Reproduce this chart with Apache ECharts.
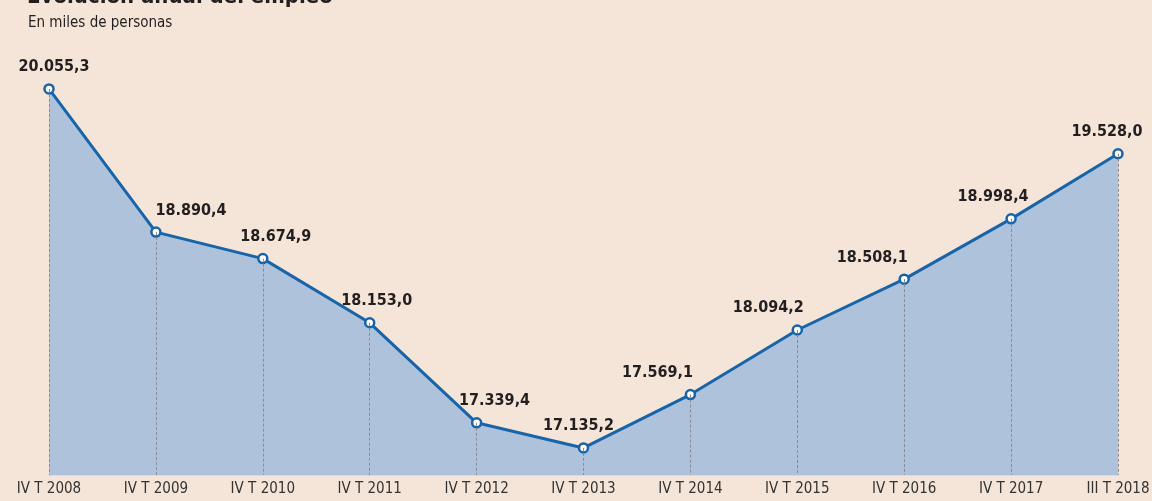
<!DOCTYPE html>
<html>
<head>
<meta charset="utf-8">
<script src="https://cdn.jsdelivr.net/npm/echarts@6/dist/echarts.min.js"></script>
<style>
  html, body { margin: 0; padding: 0; background: #f5e5d9; }
  #main { width: 1152px; height: 501px; }
</style>
</head>
<body>
<div id="main"></div>
<script>
// trimestres y ocupados (miles de personas)
var categories = ["IV T 2008", "IV T 2009", "IV T 2010", "IV T 2011", "IV T 2012", "IV T 2013",
                  "IV T 2014", "IV T 2015", "IV T 2016", "IV T 2017", "III T 2018"];
var empleo = [20055.3, 18890.4, 18674.9, 18153.0, 17339.4, 17135.2, 17569.1, 18094.2, 18508.1, 18998.4, 19528.0];

// desplazamiento horizontal de cada etiqueta
var labelDx = [5, 35, 13, 7, 18, -5, -33, -29, -32, -18, -11];

var yMin = 16915, yMax = 20697;
var fuente = "'DejaVu Sans Condensed', 'DejaVu Sans', sans-serif";

function fmt(v) {
    var parts = v.toFixed(1).split(".");
    var ent = parts[0].replace(/\B(?=(\d{3})+(?!\d))/g, ".");
    return ent + "," + parts[1];
}

var seriesData = empleo.map(function (v, i) {
    return {
        value: v,
        label: { offset: [labelDx[i], 0] }
    };
});

var guias = empleo.map(function (v, i) {
    return [{ coord: [i, v] }, { coord: [i, yMin] }];
});

var myChart = echarts.init(document.getElementById('main'));
var option = {
    backgroundColor: "#f5e5d9",
    title: [
        {
            text: "Evolución anual del empleo",
            left: 22,
            top: -19,
            textStyle: {
                fontFamily: fuente,
                fontWeight: "bold",
                fontSize: 22,
                color: "#231f20"
            }
        },
        {
            text: "En miles de personas",
            left: 23,
            top: 11,
            textStyle: {
                fontFamily: fuente,
                fontWeight: "normal",
                fontSize: 15,
                color: "#231f20"
            }
        }
    ],
    grid: { left: 49, right: 34, top: 10, bottom: 26, containLabel: false, outerBoundsMode: "none" },
    xAxis: {
        type: "category",
        boundaryGap: false,
        data: categories,
        axisLine: { show: true, lineStyle: { color: "#e9d6c8", width: 1 } },
        axisTick: { show: false },
        splitLine: { show: false },
        axisLabel: {
            interval: 0,
            margin: 7,
            fontFamily: fuente,
            fontSize: 15,
            color: "#333"
        }
    },
    yAxis: {
        type: "value",
        min: yMin,
        max: yMax,
        show: false,
        splitLine: { show: false }
    },
    series: [
        {
            // relleno y guías verticales
            name: "Relleno",
            type: "line",
            data: empleo,
            symbol: "none",
            lineStyle: { width: 0 },
            areaStyle: { color: "#aec3db", opacity: 1 },
            silent: true,
            z: 1,
            markLine: {
                silent: true,
                symbol: "none",
                label: { show: false },
                lineStyle: { color: "#8c8c8c", type: [3, 2], width: 1 },
                data: guias
            }
        },
        {
            name: "Ocupados",
            type: "line",
            data: seriesData,
            symbol: "circle",
            symbolSize: 9,
            z: 3,
            lineStyle: { color: "#1864a9", width: 3 },
            itemStyle: { color: "#ffffff", borderColor: "#1864a9", borderWidth: 2.5 },
            label: {
                show: true,
                position: "top",
                distance: 8,
                formatter: function (p) { return fmt(p.value); },
                fontFamily: fuente,
                fontWeight: "bold",
                fontSize: 16,
                color: "#231f20"
            }
        }
    ]
};
myChart.setOption(option);
</script>
</body>
</html>
